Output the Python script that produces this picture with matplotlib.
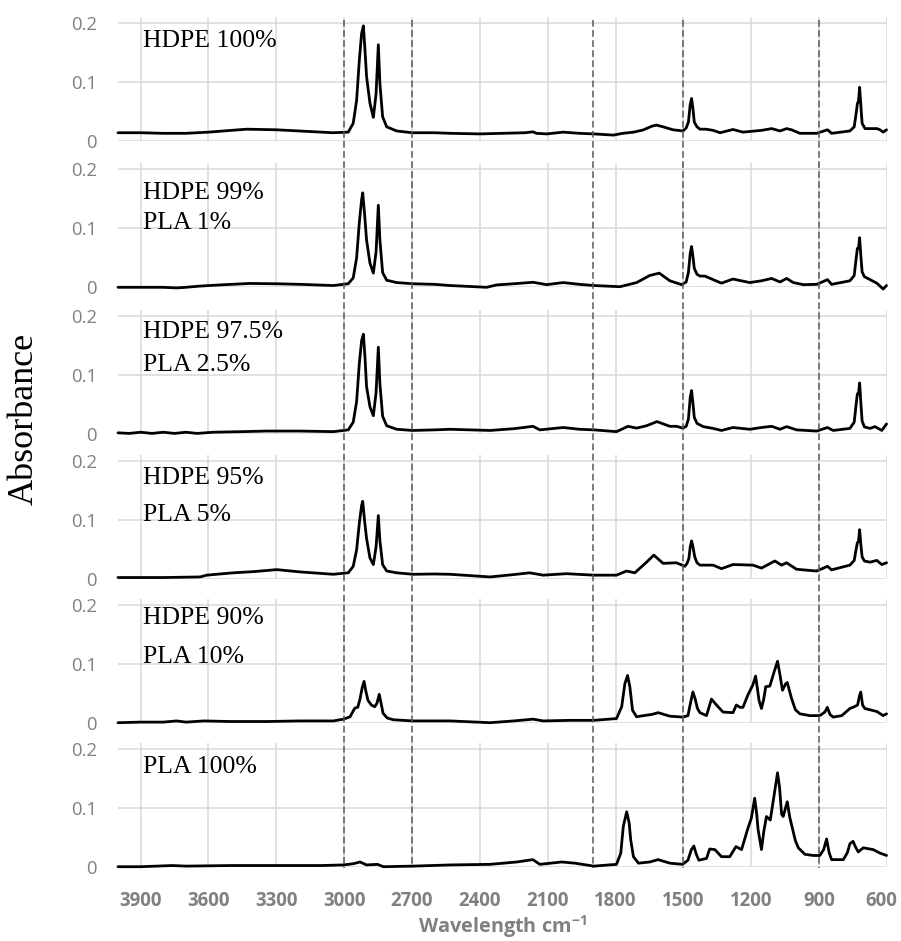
import matplotlib
matplotlib.use("Agg")
import matplotlib.pyplot as plt
from matplotlib.lines import Line2D
from matplotlib.transforms import blended_transform_factory, ScaledTranslation

plt.rcParams['mathtext.fontset'] = 'custom'
plt.rcParams['mathtext.rm'] = 'Open Sans:bold'
plt.rcParams['mathtext.it'] = 'Open Sans:bold'
plt.rcParams['mathtext.bf'] = 'Open Sans:bold'
plt.rcParams['mathtext.default'] = 'rm'

# ---------------- data: (wavenumber cm-1, absorbance) ----------------
labels = [["HDPE 100%"], ["HDPE 99%", "PLA 1%"], ["HDPE 97.5%", "PLA 2.5%"],
          ["HDPE 95%", "PLA 5%"], ["HDPE 90%", "PLA 10%"], ["PLA 100%"]]

hdpe100 = [(4000, 0.014), (3900, 0.014), (3800, 0.013), (3700, 0.013), (3600, 0.015), (3500, 0.018),
           (3430, 0.020), (3300, 0.019), (3150, 0.016), (3050, 0.014), (2982, 0.015), (2960, 0.030),
           (2945, 0.069), (2933, 0.137), (2923, 0.182), (2915, 0.195), (2908, 0.154), (2901, 0.109),
           (2886, 0.064), (2871, 0.040), (2859, 0.080), (2849, 0.163), (2842, 0.097), (2830, 0.041),
           (2812, 0.024), (2768, 0.017), (2700, 0.014), (2600, 0.014), (2532, 0.013), (2400, 0.012),
           (2300, 0.013), (2200, 0.014), (2165, 0.0155), (2150, 0.013), (2105, 0.012), (2032, 0.015),
           (1960, 0.013), (1896, 0.012), (1810, 0.010), (1768, 0.013), (1720, 0.015), (1679, 0.0186),
           (1640, 0.025), (1620, 0.027), (1590, 0.024), (1546, 0.019), (1502, 0.017), (1488, 0.022),
           (1478, 0.032), (1470, 0.062), (1464, 0.072), (1458, 0.055), (1452, 0.032), (1440, 0.024),
           (1427, 0.020), (1400, 0.020), (1369, 0.018), (1338, 0.014), (1281, 0.0195), (1237, 0.015),
           (1155, 0.018), (1110, 0.021), (1073, 0.017), (1044, 0.021), (1022, 0.019), (985, 0.013),
           (911, 0.013), (863, 0.019), (845, 0.013), (764, 0.017), (745, 0.024), (736, 0.048),
           (731, 0.063), (726, 0.068), (721, 0.091), (716, 0.062), (710, 0.030), (697, 0.021),
           (645, 0.021), (631, 0.019), (617, 0.015), (602, 0.019)]

pla1 = [(4000, 0.000), (3900, 0.000), (3800, 0.000), (3741, -0.001), (3700, 0.000), (3640, 0.002),
        (3550, 0.004), (3420, 0.0065), (3300, 0.006), (3195, 0.005), (3048, 0.003), (2982, 0.006),
        (2960, 0.016), (2945, 0.050), (2933, 0.110), (2923, 0.148), (2918, 0.160), (2910, 0.125),
        (2901, 0.080), (2886, 0.041), (2871, 0.024), (2859, 0.060), (2849, 0.139), (2842, 0.080),
        (2830, 0.025), (2812, 0.012), (2768, 0.008), (2696, 0.006), (2600, 0.005), (2532, 0.003),
        (2370, 0.000), (2326, 0.004), (2250, 0.006), (2165, 0.0085), (2105, 0.0045), (2032, 0.008),
        (1960, 0.005), (1896, 0.003), (1781, 0.001), (1707, 0.008), (1649, 0.020), (1607, 0.024),
        (1560, 0.011), (1508, 0.0045), (1488, 0.009), (1478, 0.025), (1470, 0.058), (1464, 0.069),
        (1458, 0.052), (1452, 0.032), (1440, 0.022), (1427, 0.019), (1405, 0.019), (1369, 0.013),
        (1332, 0.007), (1281, 0.014), (1207, 0.008), (1155, 0.011), (1110, 0.015), (1073, 0.009),
        (1044, 0.015), (1014, 0.008), (970, 0.0045), (911, 0.005), (863, 0.013), (845, 0.005),
        (764, 0.011), (745, 0.020), (736, 0.050), (731, 0.066), (726, 0.066), (721, 0.084),
        (716, 0.055), (710, 0.026), (700, 0.018), (675, 0.013), (645, 0.007), (617, -0.003), (602, 0.003)]

pla25 = [(4000, 0.002), (3950, 0.001), (3900, 0.003), (3850, 0.001), (3800, 0.003), (3750, 0.001),
         (3700, 0.003), (3650, 0.001), (3580, 0.003), (3450, 0.004), (3343, 0.005), (3200, 0.005),
         (3048, 0.004), (2982, 0.007), (2960, 0.020), (2945, 0.055), (2933, 0.120), (2923, 0.158),
         (2915, 0.169), (2908, 0.130), (2901, 0.080), (2886, 0.046), (2871, 0.031), (2859, 0.070),
         (2849, 0.147), (2842, 0.085), (2830, 0.030), (2812, 0.014), (2768, 0.008), (2696, 0.006),
         (2600, 0.007), (2532, 0.008), (2355, 0.006), (2250, 0.009), (2165, 0.013), (2135, 0.007),
         (2032, 0.011), (1960, 0.008), (1896, 0.007), (1796, 0.004), (1745, 0.013), (1707, 0.010),
         (1663, 0.014), (1617, 0.021), (1560, 0.013), (1531, 0.013), (1502, 0.010), (1488, 0.013),
         (1478, 0.025), (1470, 0.062), (1464, 0.0735), (1458, 0.052), (1452, 0.028), (1440, 0.018),
         (1413, 0.0125), (1369, 0.0095), (1332, 0.006), (1281, 0.011), (1207, 0.008), (1155, 0.011),
         (1110, 0.013), (1073, 0.008), (1044, 0.0125), (1000, 0.007), (911, 0.005), (863, 0.011),
         (838, 0.006), (764, 0.0095), (745, 0.020), (736, 0.052), (731, 0.068), (726, 0.068),
         (721, 0.0865), (716, 0.055), (710, 0.022), (700, 0.012), (675, 0.0095), (653, 0.0125),
         (623, 0.006), (602, 0.017)]

pla5 = [(4000, 0.003), (3800, 0.003), (3637, 0.004), (3608, 0.007), (3490, 0.011), (3400, 0.013),
        (3298, 0.0164), (3195, 0.0125), (3048, 0.0085), (2982, 0.011), (2960, 0.022), (2945, 0.050),
        (2933, 0.095), (2923, 0.125), (2918, 0.132), (2910, 0.100), (2901, 0.069), (2886, 0.036),
        (2871, 0.025), (2859, 0.055), (2849, 0.108), (2842, 0.065), (2830, 0.025), (2812, 0.014),
        (2768, 0.011), (2696, 0.0085), (2600, 0.009), (2532, 0.0085), (2355, 0.004), (2250, 0.008),
        (2180, 0.011), (2120, 0.007), (2017, 0.0095), (1896, 0.007), (1796, 0.007), (1752, 0.014),
        (1715, 0.011), (1663, 0.029), (1631, 0.041), (1590, 0.027), (1531, 0.028), (1494, 0.022),
        (1484, 0.027), (1476, 0.035), (1470, 0.055), (1464, 0.065), (1458, 0.055), (1450, 0.038),
        (1440, 0.028), (1427, 0.024), (1369, 0.024), (1332, 0.018), (1281, 0.025), (1193, 0.024),
        (1155, 0.019), (1096, 0.031), (1066, 0.024), (1044, 0.028), (1000, 0.017), (911, 0.014),
        (863, 0.022), (845, 0.016), (764, 0.024), (745, 0.032), (736, 0.052), (731, 0.062),
        (726, 0.064), (721, 0.084), (716, 0.060), (710, 0.038), (700, 0.031), (675, 0.029),
        (645, 0.032), (623, 0.025), (602, 0.028)]

pla10 = [(4000, 0.000), (3900, 0.001), (3800, 0.001), (3741, 0.003), (3700, 0.001), (3620, 0.003),
         (3500, 0.002), (3343, 0.002), (3200, 0.003), (3048, 0.003), (3003, 0.006), (2974, 0.010),
         (2960, 0.020), (2952, 0.025), (2940, 0.026), (2930, 0.040), (2920, 0.060), (2912, 0.070),
         (2905, 0.055), (2895, 0.038), (2880, 0.030), (2865, 0.027), (2855, 0.033), (2845, 0.048),
         (2838, 0.035), (2828, 0.016), (2810, 0.008), (2783, 0.005), (2696, 0.003), (2532, 0.003),
         (2355, 0.000), (2250, 0.003), (2165, 0.006), (2120, 0.003), (2000, 0.004), (1896, 0.004),
         (1796, 0.007), (1773, 0.027), (1759, 0.066), (1747, 0.080), (1737, 0.061), (1725, 0.021),
         (1707, 0.010), (1693, 0.011), (1640, 0.014), (1612, 0.017), (1560, 0.011), (1502, 0.0095),
         (1480, 0.012), (1468, 0.035), (1458, 0.052), (1448, 0.040), (1438, 0.024), (1427, 0.017),
         (1398, 0.012), (1384, 0.030), (1376, 0.040), (1354, 0.030), (1325, 0.018), (1281, 0.017),
         (1266, 0.030), (1250, 0.026), (1237, 0.026), (1215, 0.047), (1193, 0.064), (1181, 0.079),
         (1172, 0.055), (1166, 0.038), (1155, 0.024), (1145, 0.040), (1136, 0.061), (1118, 0.062),
         (1100, 0.085), (1084, 0.104), (1075, 0.085), (1062, 0.055), (1048, 0.066), (1041, 0.068),
         (1022, 0.041), (1005, 0.022), (985, 0.015), (941, 0.012), (897, 0.012), (875, 0.018),
         (864, 0.026), (852, 0.014), (838, 0.0095), (800, 0.012), (764, 0.024), (745, 0.027),
         (730, 0.030), (722, 0.045), (716, 0.052), (708, 0.030), (698, 0.024), (645, 0.019),
         (617, 0.012), (602, 0.015)]

pla100 = [(4000, 0.001), (3900, 0.001), (3760, 0.003), (3700, 0.002), (3500, 0.003), (3300, 0.003),
          (3100, 0.003), (3003, 0.004), (2960, 0.006), (2930, 0.009), (2901, 0.004), (2853, 0.005),
          (2827, 0.001), (2696, 0.002), (2532, 0.004), (2355, 0.005), (2237, 0.009), (2166, 0.013),
          (2135, 0.005), (2039, 0.009), (1980, 0.007), (1896, 0.002), (1796, 0.005), (1777, 0.024),
          (1766, 0.069), (1751, 0.094), (1740, 0.075), (1733, 0.046), (1721, 0.018), (1699, 0.007),
          (1649, 0.009), (1612, 0.013), (1560, 0.007), (1504, 0.005), (1480, 0.012), (1465, 0.030),
          (1454, 0.036), (1443, 0.022), (1432, 0.012), (1398, 0.015), (1384, 0.031), (1361, 0.030),
          (1332, 0.018), (1295, 0.018), (1268, 0.035), (1243, 0.030), (1215, 0.066), (1200, 0.083),
          (1185, 0.117), (1176, 0.090), (1170, 0.064), (1155, 0.030), (1145, 0.060), (1133, 0.086),
          (1116, 0.080), (1100, 0.120), (1084, 0.160), (1075, 0.135), (1066, 0.090), (1059, 0.086),
          (1041, 0.111), (1030, 0.085), (1022, 0.072), (1005, 0.045), (992, 0.033), (963, 0.022),
          (926, 0.020), (897, 0.020), (880, 0.030), (867, 0.048), (856, 0.025), (845, 0.013),
          (793, 0.013), (775, 0.025), (764, 0.040), (750, 0.044), (740, 0.035), (727, 0.026),
          (705, 0.033), (661, 0.030), (631, 0.024), (602, 0.020)]

series = [hdpe100, pla1, pla25, pla5, pla10, pla100]

x_ticks = [3900, 3600, 3300, 3000, 2700, 2400, 2100, 1800, 1500, 1200, 900, 600]
y_ticks = [0, 0.1, 0.2]
y_ticklabels = ["0", "0.1", "0.2"]
ref_lines = [3000, 2700, 1900, 1500, 900]

# ---------------- layout (pixels) ----------------
W, H = 901, 941
left_px, right_px = 118, 887
zero_px = [141, 287.3, 434, 579.3, 722.7, 867.3]
axh_px = 124
label_baselines = [[46.7], [199.3, 229.3], [338.3, 371], [484, 521], [624.3, 662.7], [772.7]]

GRAY = '#808080'
fig = plt.figure(figsize=(W / 100, H / 100), dpi=100)
axes = []
for k, pairs in enumerate(series):
    wn = [p[0] for p in pairs]
    ab = [p[1] for p in pairs]
    ax = fig.add_axes([left_px / W, (H - zero_px[k]) / H, (right_px - left_px) / W, axh_px / H])
    axes.append(ax)
    ax.plot(wn, ab, color='black', lw=2.0, solid_joinstyle='round', solid_capstyle='round',
            clip_on=False, zorder=3)
    ax.set_xlim(4000, 600)
    ax.set_ylim(0, 0.21)
    ax.set_xticks(x_ticks)
    ax.set_yticks(y_ticks)
    ax.set_yticklabels(y_ticklabels, fontfamily='Open Sans', fontsize=13.3, color=GRAY)
    ax.grid(True, color='#d9d9d9', lw=1.1)
    ax.set_axisbelow(True)
    for s in ax.spines.values():
        s.set_visible(False)
    ax.tick_params(axis='y', length=0, pad=15)
    ax.tick_params(axis='x', length=0, pad=17)
    if k < len(series) - 1:
        ax.tick_params(axis='x', labelbottom=False)
    else:
        ax.set_xticklabels([str(t) for t in x_ticks], fontfamily='Open Sans', fontweight='bold',
                           fontsize=13.4, color=GRAY)
        last = ax.get_xticklabels()[-1]
        last.set_transform(last.get_transform() + ScaledTranslation(-6 / 100, 0, fig.dpi_scale_trans))
    for txt, bl in zip(labels[k], label_baselines[k]):
        fig.text(143 / W, 1 - bl / H, txt, va='baseline', ha='left',
                 fontfamily='Liberation Serif', fontsize=18.5, color='black')

trans = blended_transform_factory(axes[0].transData, fig.transFigure)
for xv in ref_lines:
    fig.add_artist(Line2D([xv, xv], [1 - 20 / H, 1 - 868 / H], transform=trans,
                          color='#595959', lw=1.1, linestyle=(0, (4.4, 2.2)), zorder=5))

fig.text(24 / W, 1 - 419 / H, 'Absorbance', rotation=90, va='center', ha='center',
         fontfamily='Liberation Serif', fontsize=26, color='black')
fig.text(502 / W, 1 - 933 / H, r'Wavelength cm$^{-1}$', ha='center', va='baseline',
         fontfamily='Open Sans', fontweight='bold', fontsize=14.3, color=GRAY)

fig.savefig('out.png', dpi=100)
